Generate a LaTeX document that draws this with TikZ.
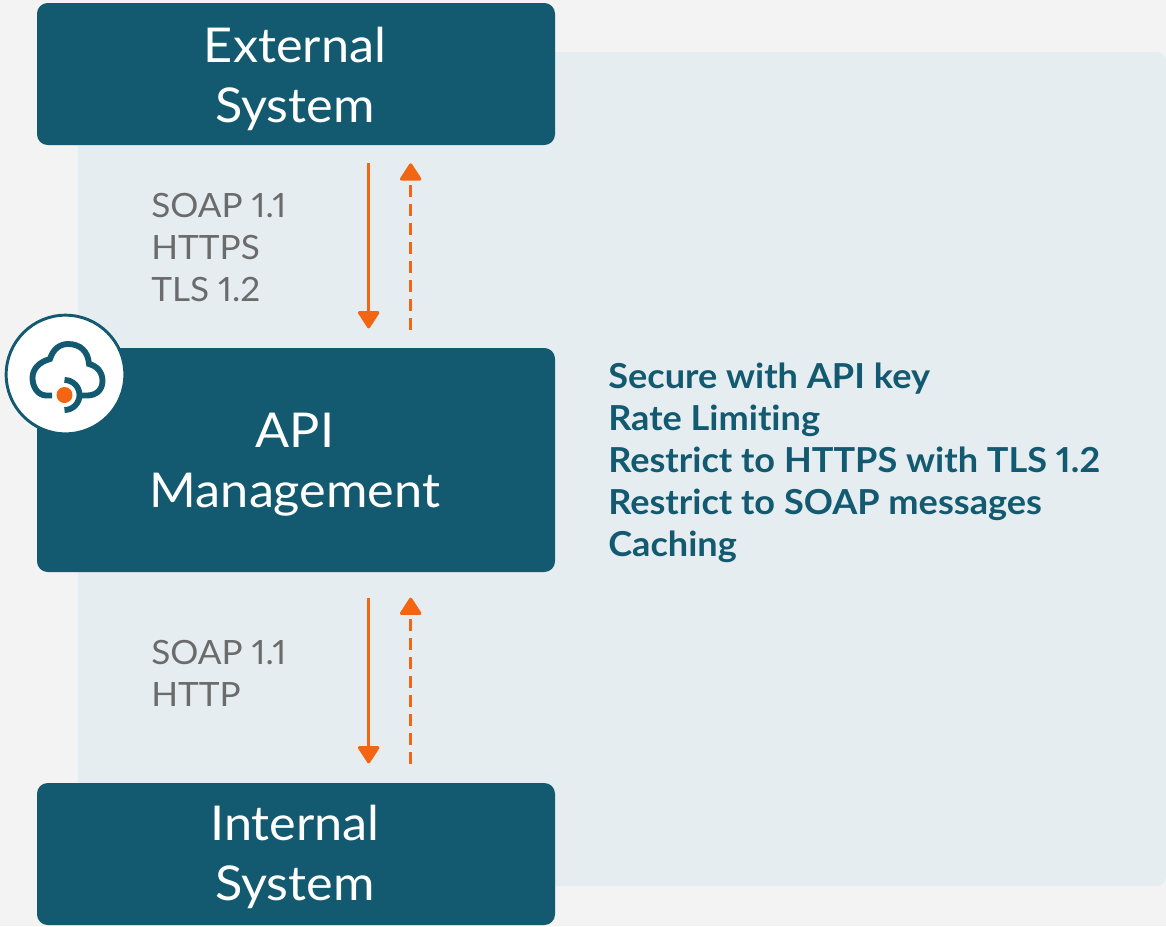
\documentclass[tikz,border=0pt]{standalone}
\usepackage{fontspec}
\setmainfont{Lato}[FakeStretch=1.05,Numbers=Proportional,Ligatures=NoCommon]
\usetikzlibrary{arrows.meta}
\definecolor{pagebg}{HTML}{F3F3F3}
\definecolor{panelbg}{HTML}{E5EDF1}
\definecolor{teal}{HTML}{135A70}
\definecolor{orng}{HTML}{F26513}
\definecolor{graytxt}{HTML}{6B6B6B}
\tikzset{
  x=0.75pt,y=-0.75pt,
  sysbox/.style={fill=teal,rounded corners=8pt,minimum width=388.5pt,inner sep=0pt},
  systext/.style={text=white,inner sep=0pt,align=center,font=\fontsize{36}{45}\selectfont},
  lbl/.style={anchor=north west,inner sep=0pt,text=graytxt,align=left,font=\fontsize{25.1}{31.5}\selectfont},
  feat/.style={anchor=north west,inner sep=0pt,text=teal,align=left,font=\fontsize{25.8}{31.5}\selectfont\bfseries},
  arr/.style={draw=orng,line width=2.3pt,-{Triangle[width=17.5pt,length=14pt,round]}},
  arrdash/.style={arr,dash pattern=on 9pt off 5.25pt},
  logoring/.style={circle,draw=teal,fill=white,line width=2.2pt,minimum size=89pt,inner sep=0pt},
  cloudline/.style={draw=teal,line width=4.4pt,fill=none}
}
\begin{document}
\begin{tikzpicture}
\useasboundingbox (0,0) rectangle (1166,926);
\fill[pagebg] (0,0) rectangle (1166,926);
\fill[panelbg,rounded corners=7pt] (78,52) rectangle (1166,886);
% boxes
\node[sysbox,minimum height=106.5pt] (ext) at (296,74) {};
\node[sysbox,minimum height=168pt] (api) at (296,460) {};
\node[sysbox,minimum height=106.5pt] (int) at (296,854) {};
\node[systext] (extt) at ([xshift=-0.75pt,yshift=-3.75pt]ext.center) {External\\System};
\node[systext] (apit) at ([xshift=-0.75pt,yshift=-3.75pt]api.center) {API\\Management};
\node[systext] (intt) at ([xshift=-0.75pt,yshift=-2.25pt]int.center) {Internal\\System};
% connectors
\draw[arr,shorten <=13.5pt,shorten >=14.5pt] ([xshift=54.5pt]ext.south) -- ([xshift=54.5pt]api.north);
\draw[arrdash,shorten <=13.5pt,shorten >=13.5pt] ([xshift=86pt]api.north) -- ([xshift=86pt]ext.south);
\draw[arr,shorten <=19pt,shorten >=14.5pt] ([xshift=54.5pt]api.south) -- ([xshift=54.5pt]int.north);
\draw[arrdash,shorten <=14pt,shorten >=19pt] ([xshift=86pt]int.north) -- ([xshift=86pt]api.south);
% labels
\node[lbl] (l1) at (151,193) {SOAP 1.1\\HTTPS\\TLS 1.2};
\node[lbl] (l2) at (151,640) {SOAP 1.1\\HTTP};
\node[feat] (f) at (608,363) {Secure with API key\\Rate Limiting\\Restrict to HTTPS with TLS 1.2\\Restrict to SOAP messages\\Caching};
% logo
\node[logoring] (logo) at (65.5,374.5) {};
\draw[cloudline,line cap=butt] (52,395.5) -- (46,395.5)
  .. controls (37,395) and (32.5,386) .. (32.5,378)
  .. controls (32.5,369) and (39,362) .. (50,359)
  .. controls (53,349) and (60,344) .. (68,344)
  .. controls (80,344) and (88,351) .. (89,364)
  .. controls (97,366) and (102.5,372) .. (102.5,381)
  .. controls (102.5,390) and (96,395.5) .. (87,395.5) -- (80,395.5);
\draw[cloudline] (64.5,380) arc[start angle=-90,end angle=90,radius=15];
\fill[orng] (64.5,395) circle[radius=6pt];
\end{tikzpicture}
\end{document}
